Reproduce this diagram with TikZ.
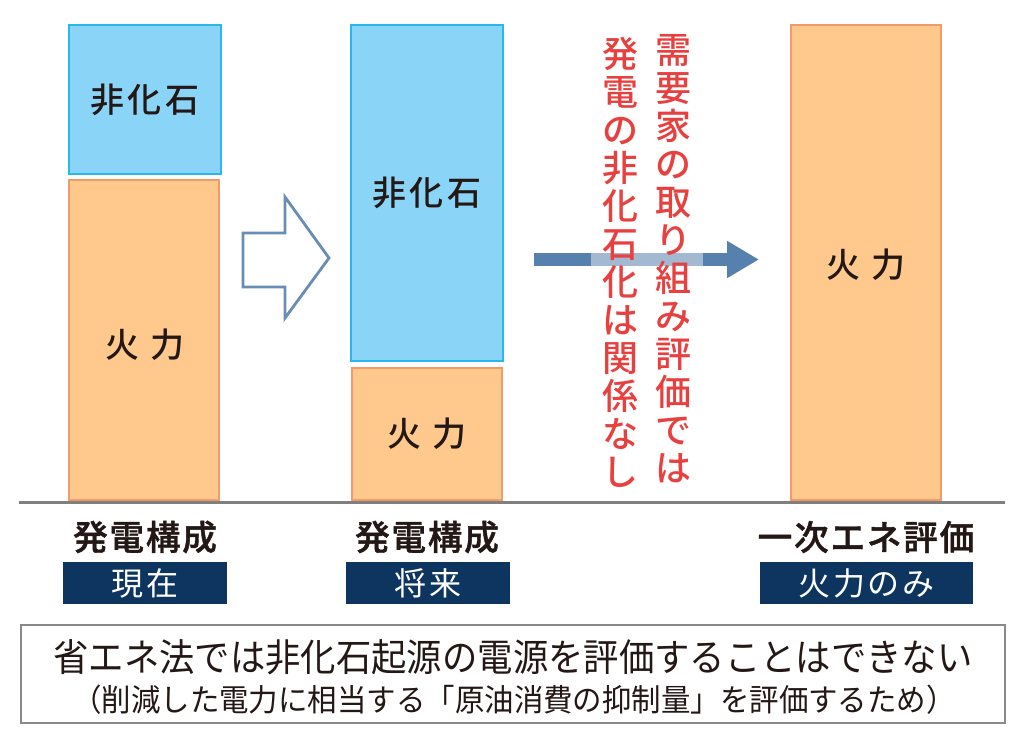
\documentclass[tikz,border=0pt]{standalone}
\usepackage{fontspec}
\setmainfont{Noto Sans CJK JP}
\newfontfamily\jpmed{Noto Sans CJK JP Medium}
\usetikzlibrary{arrows.meta}
\definecolor{bluefill}{HTML}{89D4F7}
\definecolor{blueline}{HTML}{2AB7EA}
\definecolor{orfill}{HTML}{FFC98D}
\definecolor{orline}{HTML}{F39A6A}
\definecolor{ink}{HTML}{231815}
\definecolor{navy}{HTML}{0E3560}
\definecolor{redtxt}{HTML}{E8403F}
\definecolor{arrdark}{HTML}{5680AD}
\definecolor{hollow}{HTML}{6A8DB5}
\definecolor{basegray}{HTML}{7F7F7F}
\definecolor{boxgray}{HTML}{8A8A8A}
\tikzset{
  barbase/.style={draw, line width=1.1pt, inner sep=0pt, outer sep=0pt, anchor=north west},
  bluebar/.style={barbase, fill=bluefill, draw=blueline},
  orbar/.style={barbase, fill=orfill, draw=orline},
  barlabel/.style={text=ink, font=\jpmed\fontsize{25.5pt}{28pt}\selectfont\addfontfeature{LetterSpace=10}, inner sep=0pt},
  catlabel/.style={text=ink, font=\jpmed\fontsize{26pt}{30pt}\selectfont\addfontfeature{LetterSpace=5,FakeBold=1.2}, inner sep=0pt},
  navybox/.style={fill=navy, text=white, inner sep=0pt, outer sep=0pt, anchor=north west, minimum height=42*0.75pt, font=\fontsize{24pt}{26pt}\selectfont\addfontfeature{LetterSpace=8}},
  vtext/.style={text=redtxt, align=center, inner sep=0pt, font=\jpmed\fontsize{27pt}{28.5pt}\selectfont},
}
\begin{document}
\begin{tikzpicture}[x=0.75pt,y=-0.75pt]
\useasboundingbox[fill=white] (0,0) rectangle (1024,742);
% bars
\node[bluebar, minimum width=152*0.75pt, minimum height=149*0.75pt] (b1n) at (69,25) {};
\node[orbar, minimum width=150*0.75pt, minimum height=320*0.75pt] (b1f) at (69,180) {};
\node[bluebar, minimum width=152*0.75pt, minimum height=336*0.75pt] (b2n) at (351,25) {};
\node[orbar, minimum width=150*0.75pt, minimum height=132*0.75pt] (b2f) at (352,368) {};
\node[orbar, minimum width=150*0.75pt, minimum height=475*0.75pt] (b3f) at (791,25) {};
\node[barlabel] (l1n) at (b1n.center) {非化石};
\node[barlabel] (l1f) at (145,345) {火\hspace{9pt}力};
\node[barlabel] (l2n) at (b2n.center) {非化石};
\node[barlabel] (l2f) at (b2f.center) {火\hspace{9pt}力};
\node[barlabel] (l3f) at (866,265) {火\hspace{9pt}力};
% baseline
\coordinate (baseL) at (19,502);
\coordinate (baseR) at (1005,502);
\draw[basegray, line width=2.25pt] (baseL) -- (baseR);
% hollow arrow
\draw[hollow, line width=2.1pt, fill=white, line join=miter]
  (243,233) -- (285,233) -- (285,197) -- (329,258) -- (285,318) -- (285,287) -- (243,287) -- cycle;
% solid arrow
\coordinate (arrS) at (534,259.5);
\coordinate (arrE) at (759,259.5);
\draw[arrdark, line width=9.75pt, -{Triangle[length=24pt, width=26.25pt]}] (arrS) -- (arrE);
\fill[white, opacity=0.45] (591,253) rectangle (703,266);
% vertical red text
\node[vtext] (vr) at (673,259) {需\\要\\家\\の\\取\\り\\組\\み\\評\\価\\で\\は};
\node[vtext] (vl) at (620,262) {発\\電\\の\\非\\化\\石\\化\\は\\関\\係\\な\\し};
% category labels
\node[catlabel] (c1) at (145,537) {発電構成};
\node[catlabel] (c2) at (427,537) {発電構成};
\node[catlabel] (c3) at (866,537) {一次エネ評価};
\node[navybox, minimum width=164*0.75pt] (n1) at (63,562) {現在};
\node[navybox, minimum width=164*0.75pt] (n2) at (346,562) {将来};
\node[navybox, minimum width=213*0.75pt] (n3) at (760,562) {火力のみ};
% bottom box
\node[draw=boxgray, line width=1.5pt, minimum width=984*0.75pt, minimum height=98*0.75pt, inner sep=0pt, anchor=north west] (note) at (20,624) {};
\node[text=ink, inner sep=0pt, xscale=0.93, font=\fontsize{28.5pt}{32pt}\selectfont] (t1) at (513,657) {省エネ法では非化石起源の電源を評価することはできない};
\node[text=ink, inner sep=0pt, xscale=0.95, font=\fontsize{23.25pt}{28pt}\selectfont] (t2) at (514,700) {（削減した電力に相当する「原油消費の抑制量」を評価するため）};
\end{tikzpicture}
\end{document}
